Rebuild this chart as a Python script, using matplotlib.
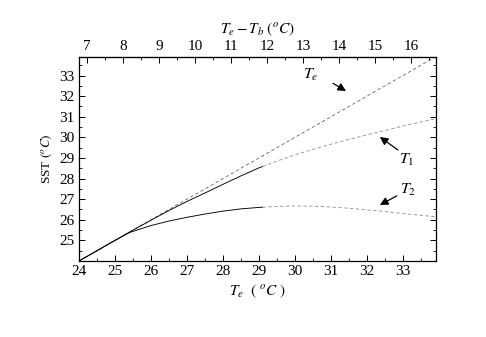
import numpy as np
import matplotlib
matplotlib.use("Agg")
import matplotlib.pyplot as plt
from matplotlib.ticker import MultipleLocator

plt.rcParams['font.family'] = ['Liberation Serif', 'DejaVu Serif']
plt.rcParams['mathtext.fontset'] = 'stix'

# values
te = [24.0, 24.5, 25.0, 25.4, 26.0, 26.5, 27.0, 27.5, 28.0, 28.5, 29.0, 29.5,
      30.0, 30.5, 31.0, 31.5, 32.0, 32.5, 33.0, 33.5, 33.9]
t1 = [24.0, 24.5, 25.0, 25.4, 25.98, 26.45, 26.89, 27.3, 27.72, 28.13, 28.52, 28.85,
      29.15, 29.42, 29.67, 29.9, 30.12, 30.33, 30.55, 30.75, 30.9]
t2 = [24.0, 24.5, 25.0, 25.38, 25.72, 25.94, 26.12, 26.28, 26.42, 26.53, 26.6, 26.65,
      26.67, 26.66, 26.62, 26.56, 26.48, 26.4, 26.3, 26.22, 26.15]
solid_end = 29.1      # curves drawn solid up to here, dashed after
tb_offset = 17.22     # Te - Tb axis on top

te = np.array(te)
t1 = np.array(t1)
t2 = np.array(t2)

fig = plt.figure(figsize=(4.86, 3.37), dpi=100)
ax = fig.add_axes([79/486, 1 - 261/337, 357/486, 204/337])

# Te reference line
ax.plot(te, te, color='0.4', lw=0.6, dashes=(4, 3))

for t in (t1, t2):
    m = te <= solid_end
    xs = np.append(te[m], solid_end)
    ys = np.append(t[m], np.interp(solid_end, te, t))
    ax.plot(xs, ys, color='black', lw=0.65)
    xd = np.insert(te[~m], 0, solid_end)
    yd = np.insert(t[~m], 0, np.interp(solid_end, te, t))
    ax.plot(xd, yd, color='0.55', lw=0.6, dashes=(4, 3))

ax.set_xlim(24, 33.92)
ax.set_ylim(24, 33.9)
ax.set_xticks(np.arange(24, 34, 1))
ax.set_yticks(np.arange(25, 34, 1))
ax.xaxis.set_minor_locator(MultipleLocator(0.5))
ax.yaxis.set_minor_locator(MultipleLocator(0.5))
ax.tick_params(which='both', direction='in', top=False, right=True, labelsize=11, pad=3)
ax.tick_params(which='major', length=4, width=0.7)
ax.tick_params(which='minor', length=2, width=0.6)
for s in ax.spines.values():
    s.set_linewidth(0.9)

sec = ax.secondary_xaxis('top', functions=(lambda x: x - tb_offset, lambda x: x + tb_offset))
sec.set_xticks(np.arange(7, 17, 1))
sec.xaxis.set_minor_locator(MultipleLocator(0.5))
sec.tick_params(which='both', direction='in', labelsize=11, pad=3)
sec.tick_params(which='major', length=4, width=0.7)
sec.tick_params(which='minor', length=2, width=0.6)
sec.set_xlabel(r'$T_e - T_b\ (^oC)$', fontsize=11, labelpad=5)

ax.set_xlabel(r'$T_e\ \ (\ ^oC\ )$', fontsize=11, labelpad=3)
ax.set_ylabel(r'SST $(^oC)$', fontsize=9.5, labelpad=4)

arrow = dict(arrowstyle='-|>', color='black', lw=0.9, mutation_scale=12, shrinkA=0, shrinkB=0)
ax.text(30.44, 33.03, r'$T_e$', fontsize=11.5, ha='center', va='center')
ax.annotate('', xy=(31.42, 32.25), xytext=(31.06, 32.62), arrowprops=arrow)
ax.text(33.11, 28.9, r'$T_1$', fontsize=11.5, ha='center', va='center')
ax.annotate('', xy=(32.36, 30.02), xytext=(32.86, 29.39), arrowprops=arrow)
ax.text(33.14, 27.45, r'$T_2$', fontsize=11.5, ha='center', va='center')
ax.annotate('', xy=(32.36, 26.72), xytext=(32.83, 27.16), arrowprops=arrow)

fig.savefig('out.png', dpi=100)
